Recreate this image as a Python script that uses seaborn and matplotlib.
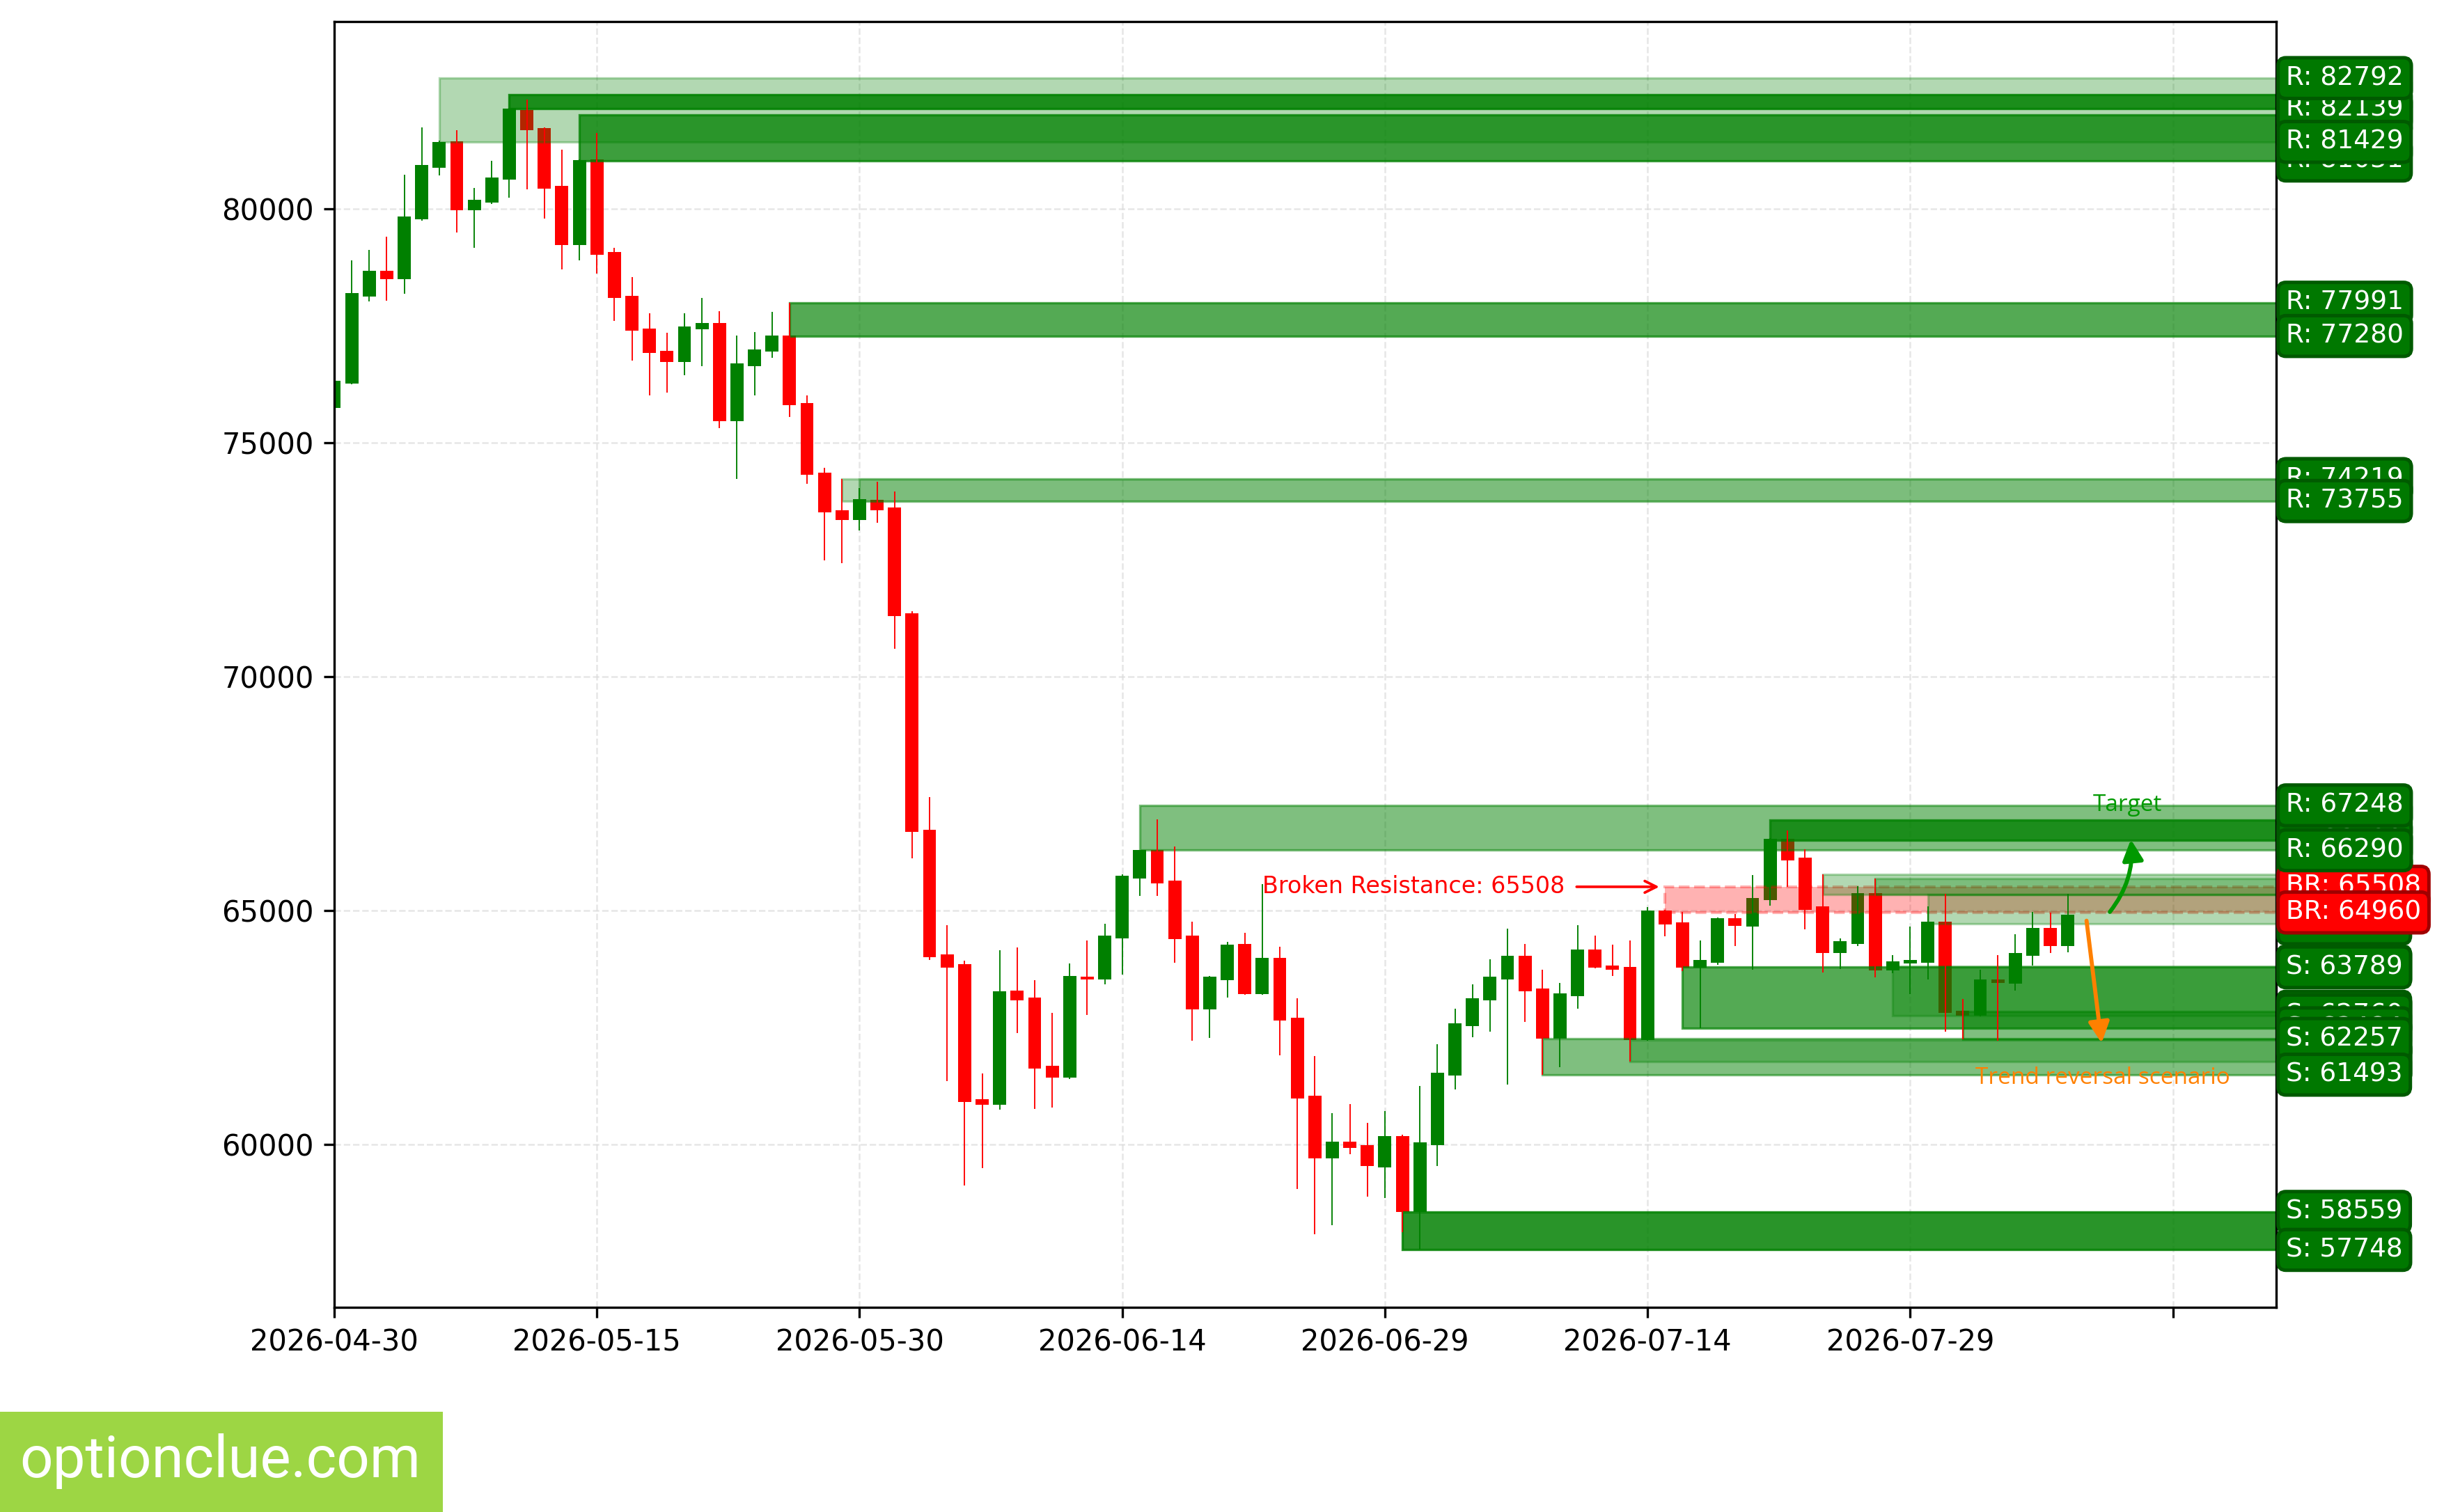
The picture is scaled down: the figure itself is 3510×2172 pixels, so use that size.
import matplotlib
matplotlib.use("Agg")
import numpy as np
import pandas as pd
import matplotlib.pyplot as plt
import matplotlib.dates as mdates
from matplotlib.patches import Rectangle
import seaborn as sns

# ---------------- data ----------------
start_date = "2026-04-30"
opens = [75749, 76270, 78129, 78677, 78501, 79777, 80882, 81445, 79963, 80138,
         80616, 82115, 81727, 80489, 79229, 81053, 79076, 78136, 77435, 76964,
         76721, 77422, 77557, 75454, 76640, 76950, 77287, 75845, 74362, 73554,
         73352, 73783, 73608, 71357, 66720, 64065, 63852, 60969, 60856, 63287,
         63141, 61680, 61434, 63586, 63533, 64410, 65686, 66290, 65639, 64463,
         62882, 63520, 64284, 63221, 63992, 62709, 61042, 59707, 60059, 59986,
         59514, 60179, 58559, 59992, 61480, 62537, 63075, 63533, 64032, 63334,
         62258, 63174, 64164, 63825, 63792, 62238, 64999, 64749, 63779, 63885,
         64835, 64663, 65220, 66534, 66132, 65090, 64088, 64292, 65368, 63721,
         63865, 63890, 64763, 62853, 62754, 63528, 63443, 64039, 64624, 64247]
highs = [76350, 78900, 79123, 79405, 80728, 81743, 81450, 81679, 80446, 81026,
         82160, 82328, 81743, 81265, 81060, 81621, 79166, 78540, 77759, 77354,
         77772, 78096, 77813, 77287, 77368, 77799, 77991, 76007, 74470, 74228,
         74025, 74160, 73958, 71400, 67421, 64689, 63932, 61520, 64151, 64211,
         63513, 62816, 63872, 64364, 64716, 65772, 66300, 66948, 66370, 64762,
         63600, 64337, 64523, 65566, 64224, 63128, 61892, 60670, 60863, 60464,
         60717, 60212, 61248, 62145, 62902, 63420, 63958, 64616, 64284, 63733,
         63447, 64689, 64463, 64271, 64364, 65074, 65010, 64975, 64364, 64850,
         64928, 65759, 66550, 66707, 66310, 65775, 64401, 65522, 65681, 64044,
         64659, 65085, 65358, 63111, 63731, 64044, 64490, 64971, 64956, 65358]
lows = [75700, 76250, 78013, 78039, 78183, 79745, 80717, 79495, 79166, 80096,
        80239, 80414, 79793, 78698, 78890, 78608, 77609, 76761, 76007, 76074,
        76438, 76640, 75306, 74228, 76007, 76815, 75548, 74120, 72489, 72422,
        73122, 73284, 70588, 66114, 63950, 61354, 59122, 59501, 60743, 62384,
        60763, 60796, 61400, 62776, 63427, 63633, 65320, 65320, 63879, 62218,
        62284, 63148, 63200, 63200, 61899, 59042, 58086, 58279, 59800, 58890,
        58863, 58133, 57748, 59541, 61182, 62298, 62417, 61288, 62623, 61493,
        61647, 62909, 63770, 63606, 61779, 62220, 64443, 63712, 62484, 63839,
        64244, 63733, 65107, 65512, 64604, 63682, 63756, 64237, 63568, 63657,
        63210, 63533, 62417, 62243, 62740, 62218, 63285, 63831, 64098, 64113]
closes = [76323, 78199, 78677, 78501, 79830, 80935, 81429, 79963, 80191, 80670,
          82139, 81685, 80430, 79229, 81040, 79022, 78087, 77395, 76923, 76721,
          77476, 77557, 75454, 76694, 76991, 77287, 75804, 74308, 73513, 73352,
          73796, 73554, 71289, 66680, 63998, 63786, 60916, 60856, 63274, 63075,
          61627, 61434, 63600, 63533, 64463, 65745, 66290, 65586, 64397, 62882,
          63586, 64270, 63221, 63992, 62656, 60989, 59707, 60059, 59933, 59534,
          60179, 58559, 60046, 61534, 62590, 63128, 63586, 64032, 63281, 62257,
          63228, 64164, 63786, 63739, 62238, 64999, 64696, 63779, 63945, 64835,
          64676, 65267, 66536, 66077, 65021, 64088, 64341, 65368, 63721, 63915,
          63940, 64763, 62814, 62754, 63528, 63448, 64093, 64624, 64247, 64912]

# zones (chronological)
zone_starts = ["2026-05-06", "2026-05-10", "2026-05-14", "2026-05-26", "2026-05-29",
               "2026-05-30", "2026-06-15", "2026-06-30", "2026-07-08", "2026-07-13",
               "2026-07-15", "2026-07-16", "2026-07-21", "2026-07-24", "2026-07-27",
               "2026-07-28", "2026-07-30", "2026-08-01"]
zone_lows = [81429, 82139, 81031, 77280, 73755, 73755, 66290, 57748, 61493, 61779,
             64960, 62484, 66500, 65343, 65343, 62760, 64723, 62243]
zone_highs = [82792, 82434, 82009, 77991, 74219, 74219, 67248, 58559, 62257, 62238,
              65508, 63789, 66935, 65775, 65681, 63806, 65343, 62838]
zone_alphas = [0.30, 0.85, 0.76, 0.67, 0.30, 0.30, 0.50, 0.84, 0.50, 0.30,
               0.30, 0.67, 0.78, 0.30, 0.30, 0.30, 0.30, 0.50]
zone_kinds = ["R", "R", "R", "R", "R", "R", "R", "S", "S", "S",
              "BR", "S", "R", "R", "R", "S", "S", "S"]

broken_level = 65508
broken_start = "2026-07-15"
target_text_pos = (102.4, 67257)
target_arrow_from = (101.4, 64971)
target_arrow_to = (102.6, 66519)
reversal_arrow_from = (100.07, 64783)
reversal_arrow_to = (100.93, 62169)
reversal_text_pos = (101.0, 61416)

# ---------------- style ----------------
sns.set_style("ticks", {"axes.edgecolor": "black", "xtick.color": "black",
                        "ytick.color": "black", "text.color": "black"})
plt.rcParams["font.family"] = ["DejaVu Sans"]
plt.rcParams["xtick.major.size"] = 3.5
plt.rcParams["ytick.major.size"] = 3.5
plt.rcParams["xtick.major.width"] = 0.8
plt.rcParams["ytick.major.width"] = 0.8
plt.rcParams["axes.linewidth"] = 0.8
plt.rcParams["xtick.labelsize"] = 10
plt.rcParams["ytick.labelsize"] = 10

fig = plt.figure(figsize=(11.7, 7.24), dpi=300)
ax = fig.add_axes([0.13675, 0.13536, 0.79459, 0.85037])

df = pd.DataFrame({"date": pd.date_range(start_date, periods=len(opens), freq="D"),
                   "open": opens, "high": highs, "low": lows, "close": closes})
x = mdates.date2num(df["date"])
x0 = mdates.date2num(pd.Timestamp(start_date))
up = df["close"] >= df["open"]
colors = np.where(up, "#008000", "#ff0000")
body_bottom = np.minimum(df["open"], df["close"])
body_height = np.abs(df["close"] - df["open"])

ax.bar(x, body_height, bottom=body_bottom, width=0.75, color=colors, linewidth=0, zorder=1)

xmax = x0 + 110.9

# zones
for s, lo, hi, a, k in zip(zone_starts, zone_lows, zone_highs, zone_alphas, zone_kinds):
    xs = mdates.date2num(pd.Timestamp(s))
    if k == "BR":
        r = Rectangle((xs, lo), xmax + 5 - xs, hi - lo, facecolor="red", edgecolor="red",
                      alpha=a, lw=1.0, ls="--", zorder=1)
    else:
        r = Rectangle((xs, lo), xmax + 5 - xs, hi - lo, facecolor="green", edgecolor="green",
                      alpha=a, lw=0.8, zorder=1)
    ax.add_patch(r)

ax.vlines(x, df["low"], df["high"], colors=colors, linewidth=0.45, zorder=2)

ax.grid(True, linestyle="--", linewidth=0.6, color="#dcdcdc", alpha=0.7, zorder=1.5)

ax.set_xlim(x0, xmax)
ax.set_ylim(56520, 84000)

tick_dates = pd.date_range(start_date, periods=8, freq="15D")
ax.set_xticks(mdates.date2num(tick_dates))
ax.set_xticklabels([d.strftime("%Y-%m-%d") for d in tick_dates[:-1]] + [""])
ax.yaxis.get_major_formatter().set_useOffset(False)

# right labels: reverse chronological order, top then bottom
ytrans = ax.get_yaxis_transform()
for s, lo, hi, k in list(zip(zone_starts, zone_lows, zone_highs, zone_kinds))[::-1]:
    for v in (hi, lo):
        if k == "BR":
            fc, ec = "#ff0000", "#a00000"
        else:
            fc, ec = "#007800", "#005a00"
        ax.text(1.005, v, f"{k}: {v}", transform=ytrans, ha="left", va="center",
                fontsize=9, color="white", clip_on=False, zorder=6,
                bbox=dict(boxstyle="round,pad=0.3", fc=fc, ec=ec, lw=1.2))

# annotations
xb = mdates.date2num(pd.Timestamp(broken_start))
ax.annotate(f"Broken Resistance: {broken_level}", xy=(xb, broken_level),
            xytext=(xb - 23, broken_level), ha="left", va="center", color="red", fontsize=8,
            arrowprops=dict(arrowstyle="->", color="red", lw=0.9, mutation_scale=10), zorder=5)

ax.annotate("", xy=(x0 + target_arrow_to[0], target_arrow_to[1]),
            xytext=(x0 + target_arrow_from[0], target_arrow_from[1]),
            arrowprops=dict(arrowstyle="-|>,head_length=0.6,head_width=0.3",
                            connectionstyle="arc3,rad=0.2", color="#009900", lw=1.4,
                            mutation_scale=10, shrinkA=0, shrinkB=0), zorder=5)
ax.text(x0 + target_text_pos[0], target_text_pos[1], "Target", color="#009900", fontsize=8,
        ha="center", va="center", family=["Open Sans", "DejaVu Sans"], zorder=5)

ax.annotate("", xy=(x0 + reversal_arrow_to[0], reversal_arrow_to[1]),
            xytext=(x0 + reversal_arrow_from[0], reversal_arrow_from[1]),
            arrowprops=dict(arrowstyle="-|>,head_length=0.6,head_width=0.3",
                            color="#ff8000", lw=1.4, mutation_scale=10, shrinkA=0, shrinkB=0),
            zorder=5)
ax.text(x0 + reversal_text_pos[0], reversal_text_pos[1], "Trend reversal scenario",
        color="#ff8000", fontsize=8, ha="center", va="center",
        family=["Open Sans", "DejaVu Sans"], zorder=5)

# watermark
fig.patches.append(Rectangle((0, 0), 0.1812, 0.0663, transform=fig.transFigure,
                             facecolor="#9dd644", edgecolor="none", zorder=0))
fig.text(0.0900, 0.0334, "optionclue.com", color="white", fontsize=20, ha="center",
         va="center", family=["Roboto", "DejaVu Sans"])

fig.savefig("out.png", dpi=300)
